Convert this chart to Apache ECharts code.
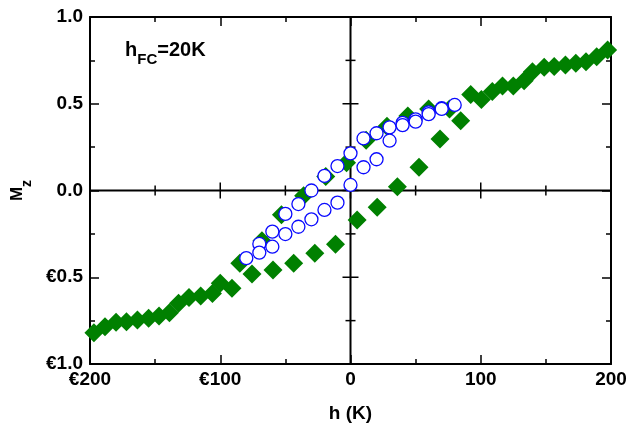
<!DOCTYPE html>
<html>
<head>
<meta charset="utf-8">
<script src="https://cdn.jsdelivr.net/npm/echarts@6/dist/echarts.min.js"></script>
<style>
html,body{margin:0;padding:0;background:#fff;}
#chart{width:631px;height:426px;}
</style>
</head>
<body>
<div id="chart"></div>
<script>
// ---- data ----
const greenH = [197.4, 189, 180.8, 173, 165, 156.4, 148.7, 139.7, 133.3, 125, 116.7, 108.9, 100.5, 92.3,
  76, 60, 44, 28, 12, -3, -19, -36, -53, -68, -85,
  -91, -100, -106, -115, -124, -132, -139, -147, -155, -163.6, -172, -180, -188.5, -197,
  -75.6, -59.5, -43.6, -27.4, -11.5, 5.1, 20.5, 36, 52.6, 68.7, 84.6];
const greenM = [0.81, 0.771, 0.742, 0.733, 0.723, 0.714, 0.71, 0.685, 0.633, 0.602, 0.602, 0.57, 0.525, 0.554,
  0.47, 0.47, 0.43, 0.37, 0.29, 0.16, 0.08, -0.03, -0.14, -0.29, -0.42,
  -0.564, -0.535, -0.593, -0.608, -0.616, -0.65, -0.704, -0.723, -0.737, -0.746, -0.756, -0.76, -0.785, -0.82,
  -0.481, -0.458, -0.42, -0.362, -0.31, -0.17, -0.097, 0.022, 0.134, 0.297, 0.402];
const blueH = [80, 70, 60, 50, 40, 30, 20, 10, 0, -10, -20, -30, -40, -50, -60, -70, -80,
  -70, -60, -50, -40, -30, -20, -10, 0, 10, 20, 30, 40, 50, 60, 70];
const blueM = [0.493, 0.474, 0.45, 0.41, 0.39, 0.364, 0.33, 0.30, 0.214, 0.141, 0.084, 0.0, -0.078, -0.135, -0.237, -0.308, -0.39,
  -0.358, -0.324, -0.251, -0.209, -0.166, -0.112, -0.07, 0.032, 0.134, 0.18, 0.287, 0.377, 0.397, 0.44, 0.47];
const xTicks = [-200, -100, 0, 100, 200];
const xTickLabels = ['\u20ac200', '\u20ac100', '0', '100', '200'];
const yTicks = [-1, -0.5, 0, 0.5, 1];
const yTickLabels = ['\u20ac1.0', '\u20ac0.5', '0.0', '0.5', '1.0'];
// tick positions along the two zero lines (major + minor)
const zeroLineXTicks = [-200, -150, -100, -50, 0, 50, 100, 150, 200];
const zeroLineYTicks = [-1, -0.75, -0.5, -0.25, 0, 0.25, 0.5, 0.75, 1];

const X_MIN = -200, X_MAX = 200, Y_MIN = -1, Y_MAX = 1;
const FONT = "'Liberation Sans', Arial, sans-serif";
const zip = (a, b) => a.map((v, i) => [v, b[i]]);

const TICK = {show: true, inside: true, length: 9, lineStyle: {color: '#000', width: 1.5}};
const MINOR = {show: true, splitNumber: 2, length: 5, lineStyle: {color: '#000', width: 1.5}};
const LINE = {show: true, onZero: false, lineStyle: {color: '#000', width: 2}};

function axis(min, max, interval, extra) {
  return Object.assign({
    type: 'value', min: min, max: max, interval: interval,
    splitLine: {show: false},
    axisLine: LINE, axisTick: TICK, minorTick: MINOR,
    axisLabel: {show: false}
  }, extra);
}

// zero-line items: [kind, x, y]; kind 0 = tick on horizontal zero line, 1 = tick on vertical zero line,
// 2 = horizontal zero line, 3 = vertical zero line
const zeroItems = [[2, 0, 0], [3, 0, 0]]
  .concat(zeroLineXTicks.map(v => [0, v, 0]))
  .concat(zeroLineYTicks.map(v => [1, 0, v]));

function renderZero(params, api) {
  const kind = api.value(0), x = api.value(1), y = api.value(2);
  const style = {stroke: '#000', lineWidth: kind >= 2 ? 2 : 1.5};
  if (kind === 2) {
    const a = api.coord([X_MIN, 0]), b = api.coord([X_MAX, 0]);
    return {type: 'line', shape: {x1: a[0], y1: a[1], x2: b[0], y2: b[1]}, style: style};
  }
  if (kind === 3) {
    const a = api.coord([0, Y_MIN]), b = api.coord([0, Y_MAX]);
    return {type: 'line', shape: {x1: a[0], y1: a[1], x2: b[0], y2: b[1]}, style: style};
  }
  const p = api.coord([x, y]);
  if (kind === 0) {
    const major = Math.abs(x / 100 - Math.round(x / 100)) < 1e-6;
    const len = major ? 8 : 5;
    return {type: 'line', shape: {x1: p[0], y1: p[1] - len, x2: p[0], y2: p[1] + len}, style: style};
  }
  const major = Math.abs(y / 0.5 - Math.round(y / 0.5)) < 1e-6;
  const len = major ? 8 : 5;
  return {type: 'line', shape: {x1: p[0] - len, y1: p[1], x2: p[0] + len, y2: p[1]}, style: style};
}

const chart = echarts.init(document.getElementById('chart'));
chart.setOption({
  animation: false,
  backgroundColor: '#fff',
  title: {
    text: '{a|h}{b|FC}{a|=20K}',
    left: 120, top: 35,
    textStyle: {rich: {
      a: {fontFamily: FONT, fontWeight: 'bold', fontSize: 20, color: '#000', lineHeight: 20, verticalAlign: 'top'},
      b: {fontFamily: FONT, fontWeight: 'bold', fontSize: 15, color: '#000', lineHeight: 27, verticalAlign: 'bottom'}
    }}
  },
  grid: {left: 90, right: 20, top: 17, bottom: 62, containLabel: false, outerBoundsMode: 'none'},
  xAxis: [
    axis(X_MIN, X_MAX, 100, {
      position: 'bottom',
      name: 'h (K)', nameLocation: 'middle', nameGap: 40,
      nameTextStyle: {fontFamily: FONT, fontWeight: 'bold', fontSize: 19, color: '#000'},
      axisLabel: {show: true, margin: 6, fontFamily: FONT, fontWeight: 'bold', fontSize: 19, color: '#000',
        formatter: v => { const i = xTicks.indexOf(v); return i >= 0 ? xTickLabels[i] : ''; }}
    }),
    axis(X_MIN, X_MAX, 100, {position: 'top'})
  ],
  yAxis: [
    axis(Y_MIN, Y_MAX, 0.5, {
      position: 'left',
      name: '{a|M}{b|z}', nameLocation: 'middle', nameGap: 56, nameRotate: 90,
      nameTextStyle: {rich: {
        a: {fontFamily: FONT, fontWeight: 'bold', fontSize: 17, color: '#000', lineHeight: 17, verticalAlign: 'top'},
        b: {fontFamily: FONT, fontWeight: 'bold', fontSize: 14, color: '#000', lineHeight: 25, verticalAlign: 'bottom'}
      }},
      axisLabel: {show: true, margin: 7, fontFamily: FONT, fontWeight: 'bold', fontSize: 19, color: '#000',
        formatter: v => { const i = yTicks.findIndex(t => Math.abs(t - v) < 1e-9); return i >= 0 ? yTickLabels[i] : ''; }}
    }),
    axis(Y_MIN, Y_MAX, 0.5, {position: 'right'})
  ],
  series: [
    {
      type: 'custom', xAxisIndex: 0, yAxisIndex: 0,
      renderItem: renderZero,
      encode: {x: 1, y: 2},
      data: zeroItems, z: 1, silent: true
    },
    {
      type: 'scatter', xAxisIndex: 0, yAxisIndex: 0,
      symbol: 'diamond', symbolSize: 19,
      itemStyle: {color: '#008000', opacity: 1},
      data: zip(greenH, greenM), z: 2
    },
    {
      type: 'scatter', xAxisIndex: 0, yAxisIndex: 0,
      symbol: 'circle', symbolSize: 13,
      itemStyle: {color: '#ffffff', borderColor: '#0a0aff', borderWidth: 1.3, opacity: 1},
      data: zip(blueH, blueM), z: 3
    }
  ]
});
</script>
</body>
</html>
